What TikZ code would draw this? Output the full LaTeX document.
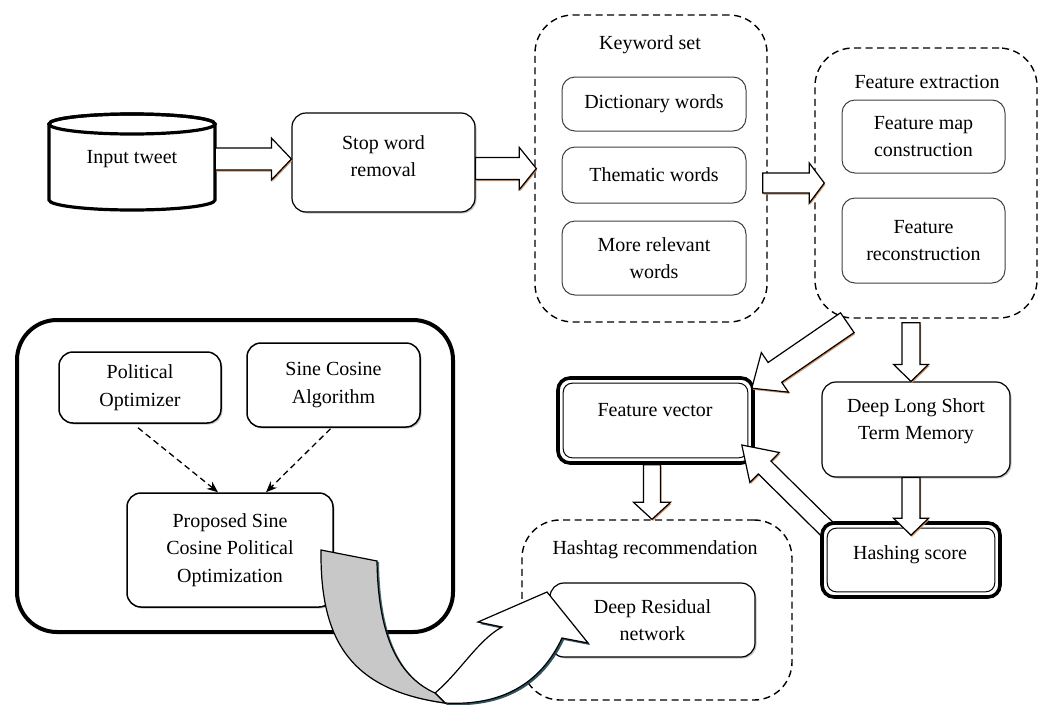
\documentclass[tikz,border=0pt]{standalone}
\usepackage{fontspec}
\setmainfont{Liberation Serif}
\usetikzlibrary{calc,shadows,arrows.meta}
\pgfdeclarelayer{fg}
\pgfsetlayers{main,fg}
\definecolor{arrsh}{RGB}{205,135,85}
\definecolor{tealsh}{RGB}{25,65,80}
\definecolor{ribbon}{RGB}{200,200,200}
% block arrow: [opts]{name}{start}{end}{shaft half width}{head half width}{head length}
\newcommand{\barrow}[7][]{%
  \coordinate (#2s) at (#3);
  \coordinate (#2e) at (#4);
  \coordinate (#2m) at ($(#2e)!#7!(#2s)$);
  \draw[blockarrow,#1] ($(#2s)!#5!90:(#2e)$) -- ($(#2m)!#5!90:(#2e)$) -- ($(#2m)!#6!90:(#2e)$) -- (#2e)
    -- ($(#2m)!#6!-90:(#2e)$) -- ($(#2m)!#5!-90:(#2e)$) -- ($(#2s)!#5!-90:(#2e)$) -- cycle;}
\begin{document}
\begin{tikzpicture}[x=1pt,y=1pt,
  font=\fontsize{20}{27.5}\selectfont,
  box/.style={draw, rounded corners=14pt, fill=white, align=center, inner sep=0pt, line width=1.2pt,
    drop shadow={shadow xshift=1.5pt,shadow yshift=-1.5pt,fill=black!45,opacity=0.5}},
  ibox/.style={draw=black!75, rounded corners=13pt, fill=white, align=center, inner sep=0pt, line width=1pt},
  dbox/.style={draw, dash pattern=on 7pt off 4.5pt, rounded corners=38pt, line width=1.4pt},
  thickbox/.style={draw, rounded corners=12pt, fill=white, inner sep=0pt, line width=3.6pt},
  blockarrow/.style={draw, fill=white, line width=1.2pt, line join=miter,
    drop shadow={shadow xshift=1pt,shadow yshift=-1.6pt,fill=arrsh,opacity=0.9}},
  dasharr/.style={dash pattern=on 6pt off 4pt, line width=1.3pt, -{Stealth[length=11pt,width=9pt]}},
  txt/.style={align=center, inner sep=0pt}]
\useasboundingbox (0,0) rectangle (1043,-704);

% dashed groups
\node[dbox, minimum width=232pt, minimum height=307pt] (kw) at (651,-168.5) {};
\node[txt] (kwt) at (650,-45) {Keyword set};
\node[dbox, minimum width=222pt, minimum height=270pt] (fe) at (926,-183) {};
\node[txt] (fet) at (927,-82) {Feature extraction};
\node[dbox, minimum width=270pt, minimum height=180pt] (hr) at (657,-610) {};
\node[txt] (hrt) at (655,-550) {Hashtag recommendation};

% keyword boxes
\node[ibox, minimum width=184pt, minimum height=54pt] (dw) at (654,-104) {Dictionary words};
\node[ibox, minimum width=184pt, minimum height=56pt] (tw) at (654,-175) {Thematic words};
\node[ibox, minimum width=184pt, minimum height=74pt] (mr) at (654,-258) {More relevant\\words};
% feature extraction boxes
\node[ibox, minimum width=163pt, minimum height=73pt] (fm) at (923.5,-136.5) {Feature map\\construction};
\node[ibox, minimum width=163pt, minimum height=85pt] (fr) at (923.5,-240.5) {Feature\\reconstruction};

% input tweet cylinder
\draw[line width=3.2pt, fill=white] (49,-124) -- (49,-200)
  arc[start angle=180, end angle=360, x radius=83pt, y radius=10pt] -- (215,-124)
  arc[start angle=0, end angle=180, x radius=83pt, y radius=10pt] -- cycle;
\draw[line width=3.2pt] (132,-124) ellipse [x radius=83pt, y radius=10pt];
\node[txt, minimum width=166pt, minimum height=80pt] (in) at (132,-159) {Input tweet};

% stop word removal
\node[box, minimum width=183pt, minimum height=99pt] (sw) at (383.5,-162.5) {};
\node[txt] (swt) at (383.5,-156) {Stop word\\removal};

\barrow{a1}{in.east}{sw.west |- in.east}{11pt}{21pt}{20pt}
\barrow{a2}{sw.east |- kw.west}{$(kw.west)+(2,0)$}{11pt}{21pt}{17pt}
\barrow{a3}{$(kw.east |- fe.west)+(-5,0)$}{$(fe.west)+(10,0)$}{10pt}{20pt}{15pt}

% left optimisation group
\node[draw, rounded corners=40pt, line width=4pt, minimum width=436pt, minimum height=312pt] (opt) at (235,-476) {};
\node[box, line width=1.5pt, minimum width=162pt, minimum height=71pt] (po) at (140,-387.5) {Political\\Optimizer};
\node[box, line width=1.5pt, minimum width=173pt, minimum height=84pt] (sc) at (333.5,-385) {Sine Cosine\\Algorithm};
\node[box, line width=1.5pt, minimum width=206pt, minimum height=114pt] (pr) at (230,-550) {Proposed Sine\\Cosine Political\\Optimization};
\draw[dasharr] ($(po.south)+(-2,-4)$) -- ($(pr.north)+(-12,0)$);
\draw[dasharr] ($(sc.south)+(-3,-1)$) -- ($(pr.north)+(36,0)$);

% feature vector
\node[thickbox, minimum width=195pt, minimum height=85pt] (fv) at (655.5,-420.5) {};
\draw[line width=1pt, rounded corners=9pt] ($(fv.north west)+(7,-7)$) rectangle ($(fv.south east)+(-7,7)$);
\node[txt] (fvt) at (655,-410) {Feature vector};

% deep LSTM and hashing score (hashing score on the front layer)
\node[box, minimum width=188pt, minimum height=95pt] (dl) at (916,-429.5) {};
\node[txt] (dlt) at (916,-421) {Deep Long Short\\Term Memory};
\begin{pgfonlayer}{fg}
\node[thickbox, minimum width=178pt, minimum height=74pt] (hs) at (911,-560) {};
\draw[line width=1pt, rounded corners=9pt] ($(hs.north west)+(7,-7)$) rectangle ($(hs.south east)+(-7,7)$);
\node[txt] (hst) at (910,-555) {Hashing score};
\barrow{a5}{$(dl.south)+(-5,0)$}{$(hs.north)+(0,-14)$}{9pt}{17.5pt}{17pt}
\end{pgfonlayer}

\barrow{a8}{$(hs.north west)+(8,-9)$}{$(fv.east)+(-13,-24.5)$}{9pt}{21pt}{32pt}
\barrow{a4}{$(fe.south)+(-15,-4)$}{$(dl.north)+(-5,0)$}{9pt}{17.5pt}{17pt}
\barrow{a6}{$(fv.south)+(-3.5,0)$}{$(hr.north)+(-5,0)$}{8.5pt}{18.5pt}{17pt}
\barrow{a7}{$(fe.south west)+(33,-4)$}{$(fv.north east)+(-3,-12)$}{12pt}{24pt}{28pt}

% deep residual network
\node[box, minimum width=205pt, minimum height=74pt] (dr) at (652.5,-620) {Deep Residual\\network};

% curved 3D arrow from proposed optimisation to deep residual network
\draw[fill=white, line width=1.2pt, line join=miter,
  drop shadow={shadow xshift=2pt,shadow yshift=-2pt,fill=tealsh,opacity=0.9}]
  (435,-693) .. controls (460,-672) and (478,-640) .. (502,-627)
  -- (478,-622) -- (547,-592) -- (588,-643) -- (562,-638)
  .. controls (540,-685) and (500,-706) .. (445,-703) -- cycle;
\draw[fill=ribbon, line width=1.2pt, line join=miter,
  drop shadow={shadow xshift=2pt,shadow yshift=-1pt,fill=tealsh,opacity=0.8}]
  (321,-550) -- (377,-561) .. controls (378,-630) and (395,-675) .. (435,-693)
  -- (445,-703) .. controls (350,-690) and (320,-640) .. (321,-550) -- cycle;
\end{tikzpicture}
\end{document}
